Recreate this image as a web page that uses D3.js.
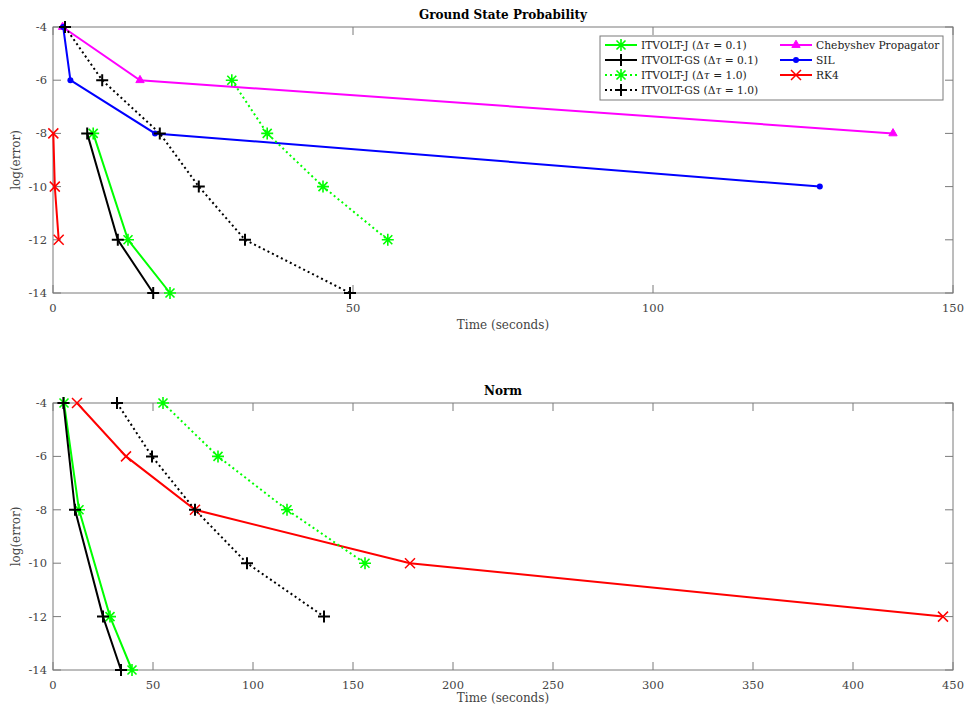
<!DOCTYPE html>
<html>
<head>
<meta charset="utf-8">
<script src="https://cdn.jsdelivr.net/npm/d3@7"></script>
<style>
    body { margin: 0; background: #fff; }
    svg text { font-family: "DejaVu Serif", serif; }
</style>
</head>
<body>
<div id="chart"></div>
<script>
// data (x = seconds, y = log(error))

var yTicks = [-4, -6, -8, -10, -12, -14]
var xTicksTop = [0, 50, 100, 150]
var xTicksBottom = [0, 50, 100, 150, 200, 250, 300, 350, 400, 450]

// Ground State Probability
var gsJ01_t = [6.7, 12.5, 19.5]
var gsJ01_y = [-8, -12, -14]
var gsGS01_t = [5.7, 10.8, 16.7]
var gsGS01_y = [-8, -12, -14]
var gsJ10_t = [29.8, 35.7, 45, 55.8]
var gsJ10_y = [-6, -8, -10, -12]
var gsGS10_t = [2, 8.2, 17.8, 24.3, 32, 49.5]
var gsGS10_y = [-4, -6, -8, -10, -12, -14]
var gsCheb_t = [1.6, 14.5, 140]
var gsCheb_y = [-4, -6, -8]
var gsSIL_t = [1.7, 2.9, 17, 127.8]
var gsSIL_y = [-4, -6, -8, -10]
var gsRK4_t = [0.05, 0.3, 0.95]
var gsRK4_y = [-8, -10, -12]

// Norm
var nJ01_t = [5.5, 13, 28.5, 39.5]
var nJ01_y = [-4, -8, -12, -14]
var nGS01_t = [5.2, 11, 25, 34]
var nGS01_y = [-4, -8, -12, -14]
var nJ10_t = [55, 82.5, 117, 156]
var nJ10_y = [-4, -6, -8, -10]
var nGS10_t = [32, 49.5, 71, 97, 135.5]
var nGS10_y = [-4, -6, -8, -10, -12]
var nRK4_t = [12, 36.5, 71, 178.5, 445]
var nRK4_y = [-4, -6, -8, -10, -12]

var legendNames = ["ITVOLT-J", "ITVOLT-GS", "ITVOLT-J", "ITVOLT-GS", "Chebyshev Propagator", "SIL", "RK4"]
var legendDt = ["0.1", "0.1", "1.0", "1.0", null, null, null]

//setup SVG

var w = 965
var h = 708

var svg = d3.select("#chart")
    .append("svg")
    .attr("width", w)
    .attr("height", h)

var axisColor = "#7a7a7a"
var labelColor = "#444"

function zip(t, y) {
    return t.map(function(d, i) { return {t: d, y: y[i]} })
}

// series styles
var styles = {
    J01:  {color: "#00ff00", dash: null, marker: "star"},
    GS01: {color: "#000000", dash: null, marker: "plus"},
    J10:  {color: "#00ff00", dash: "2,3", marker: "star"},
    GS10: {color: "#000000", dash: "2,3", marker: "plus"},
    Cheb: {color: "#ff00ff", dash: null, marker: "tri"},
    SIL:  {color: "#0000ff", dash: null, marker: "dot"},
    RK4:  {color: "#ff0000", dash: null, marker: "cross"}
}

function drawMarker(g, type, x, y, color) {
    var s = 6
    if (type == "star") {
        var d = "M" + (x - s) + "," + y + "H" + (x + s) +
            "M" + x + "," + (y - s) + "V" + (y + s) +
            "M" + (x - 4.5) + "," + (y - 4.5) + "L" + (x + 4.5) + "," + (y + 4.5) +
            "M" + (x - 4.5) + "," + (y + 4.5) + "L" + (x + 4.5) + "," + (y - 4.5)
        g.append("path").attr("d", d).attr("stroke", color).attr("stroke-width", 1.6).attr("fill", "none")
    } else if (type == "plus") {
        var d = "M" + (x - s) + "," + y + "H" + (x + s) +
            "M" + x + "," + (y - s) + "V" + (y + s)
        g.append("path").attr("d", d).attr("stroke", color).attr("stroke-width", 2).attr("fill", "none")
    } else if (type == "cross") {
        var d = "M" + (x - 5) + "," + (y - 5) + "L" + (x + 5) + "," + (y + 5) +
            "M" + (x - 5) + "," + (y + 5) + "L" + (x + 5) + "," + (y - 5)
        g.append("path").attr("d", d).attr("stroke", color).attr("stroke-width", 1.5).attr("fill", "none")
    } else if (type == "tri") {
        g.append("path").attr("d", d3.symbol(d3.symbolTriangle, 30)())
            .attr("transform", "translate(" + x + "," + y + ")")
            .attr("fill", color).attr("stroke", color).attr("stroke-width", 1)
    } else if (type == "dot") {
        g.append("circle").attr("cx", x).attr("cy", y).attr("r", 3).attr("fill", color)
    }
}

function drawPanel(opt) {
    var x = d3.scaleLinear().domain([0, opt.xmax]).range([opt.left, opt.right])
    var y = d3.scaleLinear().domain([-14, -4]).range([opt.bottom, opt.top])

    var g = svg.append("g")

    // ticks inside the box, on all four sides
    var ax = g.append("g").attr("stroke", axisColor).attr("stroke-width", 1)
    opt.xticks.forEach(function(t) {
        ax.append("line").attr("x1", x(t)).attr("x2", x(t)).attr("y1", opt.bottom).attr("y2", opt.bottom - 8)
        ax.append("line").attr("x1", x(t)).attr("x2", x(t)).attr("y1", opt.top).attr("y2", opt.top + 8)
    })
    yTicks.forEach(function(t) {
        ax.append("line").attr("x1", opt.left).attr("x2", opt.left + 8).attr("y1", y(t)).attr("y2", y(t))
        ax.append("line").attr("x1", opt.right).attr("x2", opt.right - 8).attr("y1", y(t)).attr("y2", y(t))
    })
    g.append("rect")
        .attr("x", opt.left).attr("y", opt.top)
        .attr("width", opt.right - opt.left).attr("height", opt.bottom - opt.top)
        .attr("fill", "none").attr("stroke", axisColor).attr("stroke-width", 1)

    g.selectAll(".xt").data(opt.xticks).enter().append("text")
        .attr("x", function(d) { return x(d) })
        .attr("y", opt.bottom + 19)
        .attr("text-anchor", "middle")
        .attr("font-size", 11.5)
        .attr("fill", labelColor)
        .text(function(d) { return d })

    g.selectAll(".yt").data(yTicks).enter().append("text")
        .attr("x", opt.left - 6)
        .attr("y", function(d) { return y(d) + 4 })
        .attr("text-anchor", "end")
        .attr("font-size", 11.5)
        .attr("fill", labelColor)
        .text(function(d) { return d })

    g.append("text")
        .attr("x", (opt.left + opt.right) / 2)
        .attr("y", opt.bottom + opt.xlabelOffset)
        .attr("text-anchor", "middle")
        .attr("font-size", 12)
        .attr("fill", labelColor)
        .text("Time (seconds)")

    g.append("text")
        .attr("transform", "translate(20," + (opt.top + opt.bottom) / 2 + ") rotate(-90)")
        .attr("text-anchor", "middle")
        .attr("font-size", 12)
        .attr("fill", labelColor)
        .text("log(error)")

    g.append("text")
        .attr("x", (opt.left + opt.right) / 2)
        .attr("y", opt.top - 8)
        .attr("text-anchor", "middle")
        .attr("font-size", 12)
        .attr("font-weight", "bold")
        .attr("fill", "#000")
        .text(opt.title)

    var line = d3.line()
        .x(function(d) { return x(d.t) })
        .y(function(d) { return y(d.y) })

    opt.series.forEach(function(s) {
        var st = styles[s.key]
        var pts = zip(s.t, s.y)
        g.append("path")
            .attr("d", line(pts))
            .attr("fill", "none")
            .attr("stroke", st.color)
            .attr("stroke-width", 2)
            .attr("stroke-dasharray", st.dash)
        pts.forEach(function(p) {
            drawMarker(g, st.marker, x(p.t), y(p.y), st.color)
        })
    })
}

drawPanel({
    title: "Ground State Probability",
    left: 53, right: 953, top: 27, bottom: 293,
    xmax: 150, xticks: xTicksTop, xlabelOffset: 36,
    series: [
        {key: "Cheb", t: gsCheb_t, y: gsCheb_y},
        {key: "SIL", t: gsSIL_t, y: gsSIL_y},
        {key: "RK4", t: gsRK4_t, y: gsRK4_y},
        {key: "J10", t: gsJ10_t, y: gsJ10_y},
        {key: "GS10", t: gsGS10_t, y: gsGS10_y},
        {key: "J01", t: gsJ01_t, y: gsJ01_y},
        {key: "GS01", t: gsGS01_t, y: gsGS01_y}
    ]
})

drawPanel({
    title: "Norm",
    left: 53, right: 953, top: 403, bottom: 670,
    xmax: 450, xticks: xTicksBottom, xlabelOffset: 32,
    series: [
        {key: "RK4", t: nRK4_t, y: nRK4_y},
        {key: "J10", t: nJ10_t, y: nJ10_y},
        {key: "GS10", t: nGS10_t, y: nGS10_y},
        {key: "J01", t: nJ01_t, y: nJ01_y},
        {key: "GS01", t: nGS01_t, y: nGS01_y}
    ]
})

// legend (top panel)

var leg = svg.append("g")
leg.append("rect")
    .attr("x", 600).attr("y", 36)
    .attr("width", 343).attr("height", 64)
    .attr("fill", "#fff").attr("stroke", axisColor).attr("stroke-width", 1)

var legKeys = ["J01", "GS01", "J10", "GS10", "Cheb", "SIL", "RK4"]
legKeys.forEach(function(k, i) {
    var st = styles[k]
    var col = i < 4 ? 0 : 1
    var row = i < 4 ? i : i - 4
    var x0 = col == 0 ? 605 : 780
    var y0 = 45 + row * 15
    leg.append("line")
        .attr("x1", x0).attr("x2", x0 + 32)
        .attr("y1", y0).attr("y2", y0)
        .attr("stroke", st.color).attr("stroke-width", 2)
        .attr("stroke-dasharray", st.dash)
    drawMarker(leg, st.marker, x0 + 16, y0, st.color)
    var t = leg.append("text")
        .attr("x", x0 + 36).attr("y", y0 + 4)
        .attr("font-size", 10.7)
        .attr("fill", "#222")
    t.append("tspan").text(legendNames[i])
    if (legendDt[i]) {
        t.append("tspan").text(" (Δ")
        t.append("tspan").attr("font-style", "italic").text("τ")
        t.append("tspan").text(" = " + legendDt[i] + ")")
    }
})
</script>
</body>
</html>
